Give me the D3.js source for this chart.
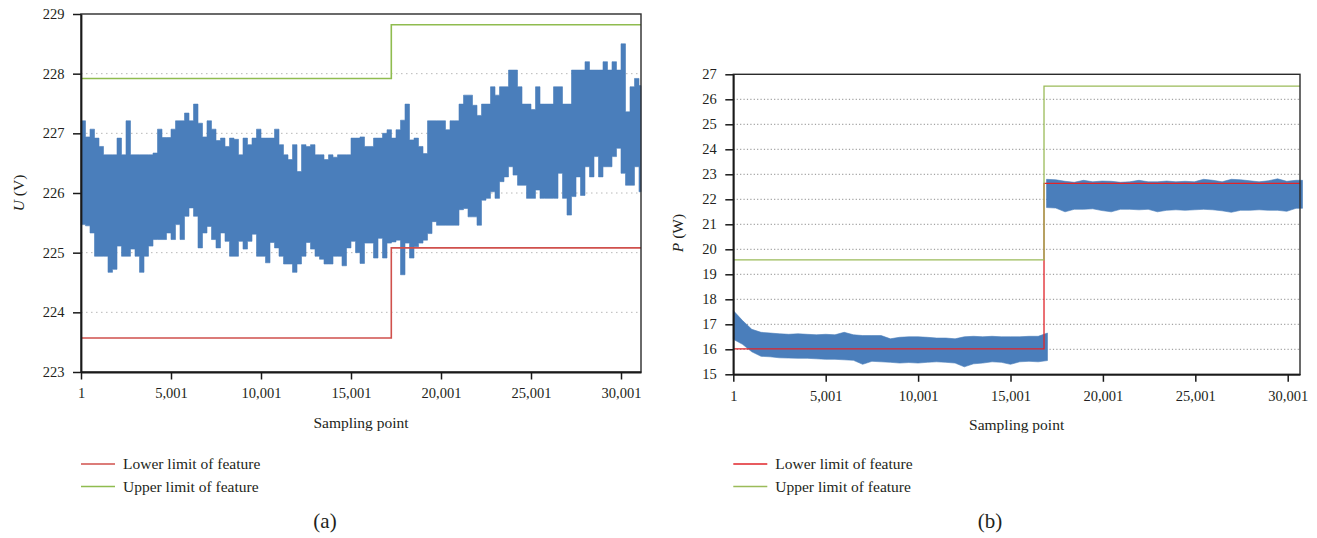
<!DOCTYPE html>
<html>
<head>
<meta charset="utf-8">
<script src="https://cdn.jsdelivr.net/npm/d3@7/dist/d3.min.js"></script>
<style>
  body { margin: 0; background: #fff; }
  svg text { font-family: "Liberation Serif", "Times New Roman", serif; fill: #231f20; }
</style>
</head>
<body>
<svg id="chart" width="1317" height="538"></svg>
<script>
// ---- panel (a): voltage, envelope of the sampled signal every 250 points ----
const voltStep = 250;
const voltUpper = [
  227.21, 226.94, 227.07, 226.92, 226.78, 226.64, 226.64, 226.64, 226.92, 226.64,
  227.21, 226.64, 226.64, 226.64, 226.64, 226.64, 226.67, 227.07, 226.93, 226.93,
  227.07, 227.21, 227.21, 227.34, 227.21, 227.49, 227.17, 226.94, 227.21, 227.07,
  226.88, 226.92, 226.78, 226.92, 226.90, 226.64, 226.92, 226.81, 226.92, 227.07,
  226.92, 226.92, 226.92, 227.07, 226.81, 226.64, 226.56, 226.81, 226.36, 226.81,
  226.78, 226.81, 226.64, 226.64, 226.56, 226.64, 226.60, 226.64, 226.64, 226.64,
  226.92, 226.92, 226.94, 226.78, 226.78, 226.92, 226.92, 227.00, 227.06, 226.92,
  227.06, 227.22, 227.49, 226.89, 226.92, 226.78, 226.66, 227.21, 227.21, 227.21,
  227.21, 227.06, 227.21, 227.21, 227.49, 227.64, 227.64, 227.47, 227.30, 227.49,
  227.49, 227.78, 227.64, 227.78, 227.78, 228.06, 228.06, 227.78, 227.49, 227.49,
  227.40, 227.78, 227.49, 227.49, 227.49, 227.78, 227.78, 227.49, 227.49, 228.06,
  228.06, 228.06, 228.20, 228.06, 228.06, 228.06, 228.20, 228.06, 228.20, 228.06,
  228.50, 227.36, 227.78, 227.92, 227.80
];
const voltLower = [
  225.47, 225.45, 225.33, 224.94, 224.94, 224.94, 224.67, 224.72, 225.11, 224.94,
  224.94, 225.06, 224.94, 224.67, 224.94, 225.11, 225.22, 225.22, 225.22, 225.33,
  225.22, 225.47, 225.22, 225.61, 225.75, 225.61, 225.08, 225.33, 225.44, 225.22,
  225.08, 225.33, 225.19, 224.94, 224.94, 225.19, 225.06, 225.19, 225.31, 224.94,
  224.94, 224.83, 225.17, 225.08, 224.94, 224.81, 224.81, 224.67, 224.81, 224.94,
  225.17, 225.06, 224.94, 224.89, 224.81, 224.81, 224.94, 224.94, 224.78, 225.08,
  225.19, 225.00, 224.82, 225.16, 225.16, 224.91, 225.24, 224.91, 225.16, 225.18,
  225.21, 224.63, 225.16, 224.91, 225.10, 225.16, 225.21, 225.32, 225.52, 225.46,
  225.46, 225.46, 225.46, 225.46, 225.72, 225.74, 225.60, 225.60, 225.46, 225.88,
  225.91, 226.02, 225.91, 226.19, 226.27, 226.44, 226.30, 226.13, 226.13, 225.91,
  225.91, 226.05, 225.91, 225.91, 225.91, 225.91, 226.33, 225.91, 225.63, 225.94,
  226.27, 225.96, 226.44, 226.27, 226.61, 226.27, 226.44, 226.44, 226.61, 226.75,
  226.33, 226.13, 226.13, 226.44, 226.02
];
const voltEnd = 31112;
const voltLimitX = [1, 17240, voltEnd];
const voltLowerLimit = [223.57, 225.08];
const voltUpperLimit = [227.92, 228.82];
const voltTicks = [223, 224, 225, 226, 227, 228, 229];
const voltGrid = [224, 225, 226, 227, 228];

// ---- panel (b): power, envelope every 500 points, two segments ----
const powerStep = 500;
const powerUpperA = [
  17.55, 17.15, 16.80, 16.68, 16.65, 16.62, 16.60, 16.62, 16.60, 16.58,
  16.60, 16.58, 16.68, 16.58, 16.55, 16.55, 16.55, 16.42, 16.48, 16.50,
  16.50, 16.48, 16.45, 16.45, 16.42, 16.50, 16.52, 16.50, 16.52, 16.50,
  16.50, 16.50, 16.52, 16.52, 16.65
];
const powerLowerA = [
  16.40, 16.20, 15.90, 15.72, 15.70, 15.66, 15.65, 15.64, 15.64, 15.62,
  15.60, 15.60, 15.58, 15.56, 15.40, 15.52, 15.50, 15.48, 15.45, 15.47,
  15.45, 15.48, 15.50, 15.48, 15.45, 15.30, 15.42, 15.45, 15.50, 15.48,
  15.40, 15.50, 15.52, 15.50, 15.55
];
const powerStartB = 16951;
const powerUpperB = [
  22.80, 22.78, 22.72, 22.68, 22.76, 22.70, 22.73, 22.72, 22.68, 22.70,
  22.76, 22.70, 22.70, 22.73, 22.70, 22.72, 22.70, 22.80, 22.76, 22.70,
  22.80, 22.78, 22.74, 22.70, 22.74, 22.82, 22.72, 22.76
];
const powerLowerB = [
  21.67, 21.65, 21.50, 21.60, 21.60, 21.62, 21.55, 21.50, 21.60, 21.60,
  21.58, 21.60, 21.50, 21.56, 21.58, 21.56, 21.58, 21.60, 21.58, 21.54,
  21.48, 21.56, 21.56, 21.58, 21.56, 21.56, 21.52, 21.64
];
const powerEndB = 30801;
const powerEnd = 30666;
const powerLimitX = [1, 16814, powerEnd];
const powerLowerLimit = [16.02, 22.64];
const powerUpperLimit = [19.58, 26.53];
const powerTicks = [15, 16, 17, 18, 19, 20, 21, 22, 23, 24, 25, 26, 27];
const powerGrid = [16, 17, 18, 19, 20, 21, 22, 23, 24, 25, 26];

const sampleTicks = [1, 5001, 10001, 15001, 20001, 25001, 30001];
const legendLabels = ["Lower limit of feature", "Upper limit of feature"];

const blue = "#4a7ebb";
const svg = d3.select("#chart");

function drawPanel(p) {
  const g = svg.append("g");
  const x = d3.scaleLinear().domain([1, p.xEnd]).range([p.left, p.right]);
  const y = d3.scaleLinear().domain(p.yDomain).range([p.bottom, p.top]);

  g.selectAll(".grid")
    .data(p.grid)
    .enter()
    .append("line")
    .attr("x1", p.left)
    .attr("x2", p.right)
    .attr("y1", d => y(d))
    .attr("y2", d => y(d))
    .attr("stroke", p.gridColor)
    .attr("stroke-width", 1)
    .attr("stroke-dasharray", p.gridDash);

  p.bands.forEach(b => {
    const rows = b.upper.map((u, i) => ({ s: b.start + i * b.step, u: u, l: b.lower[i] }));
    rows.push({ s: b.end, u: b.upper[b.upper.length - 1], l: b.lower[b.lower.length - 1] });
    const area = d3.area()
      .x(d => x(d.s))
      .y0(d => y(d.l))
      .y1(d => y(d.u))
      .curve(b.curve);
    g.append("path")
      .datum(rows)
      .attr("d", area)
      .attr("fill", blue)
      .attr("stroke", blue)
      .attr("stroke-width", 0.6);
  });

  const limLine = d3.line().x(d => x(d[0])).y(d => y(d[1])).curve(d3.curveStepAfter);
  const limits = [
    { vals: p.lower, color: p.red },
    { vals: p.upper, color: p.green }
  ];
  limits.forEach(l => {
    const pts = p.limitX.map((s, i) => [s, l.vals[Math.min(i, l.vals.length - 1)]]);
    g.append("path")
      .datum(pts)
      .attr("d", limLine)
      .attr("fill", "none")
      .attr("stroke", l.color)
      .attr("stroke-width", p.limitWidth);
  });

  // frame
  g.append("rect")
    .attr("x", p.left)
    .attr("y", p.top)
    .attr("width", p.right - p.left)
    .attr("height", p.bottom - p.top)
    .attr("fill", "none")
    .attr("stroke", "#2b2b2b")
    .attr("stroke-width", 1.4);

  const yAxis = d3.axisLeft(y).tickValues(p.yTicks).tickFormat(d3.format("d"))
    .tickSize(8).tickSizeOuter(0).tickPadding(8.5);
  const gy = g.append("g").attr("transform", "translate(" + p.left + ",0)").call(yAxis);
  const xAxis = d3.axisBottom(x).tickValues(sampleTicks).tickFormat(d3.format(","))
    .tickSize(7.5).tickSizeOuter(0).tickPadding(8.5);
  const gx = g.append("g").attr("transform", "translate(0," + p.bottom + ")").call(xAxis);
  [gx, gy].forEach(a => {
    a.select(".domain").attr("stroke", "#1a1a1a").attr("stroke-width", 1.8);
    a.selectAll(".tick line").attr("stroke", "#1a1a1a").attr("stroke-width", 1.5);
    a.selectAll(".tick text")
      .attr("fill", "#231f20")
      .style("font-family", "'Liberation Serif', serif")
      .style("font-size", "14.5px");
  });

  g.append("text")
    .attr("x", (p.left + p.right) / 2)
    .attr("y", p.bottom + 56)
    .attr("text-anchor", "middle")
    .style("font-size", "15.5px")
    .text("Sampling point");

  const yt = g.append("text")
    .attr("transform", "translate(" + p.yTitleX + "," + p.yTitleY + ") rotate(-90)")
    .attr("text-anchor", "middle")
    .attr("dy", "0.35em")
    .style("font-size", "15.5px");
  yt.append("tspan").style("font-style", "italic").text(p.yVar);
  yt.append("tspan").text(" " + p.yUnit);

  const lg = g.append("g").attr("transform", "translate(" + p.left + ",464)");
  [p.red, p.green].forEach((c, i) => {
    lg.append("line")
      .attr("x1", 0).attr("x2", 34)
      .attr("y1", i * 22.5).attr("y2", i * 22.5)
      .attr("stroke", c).attr("stroke-width", 1.5);
    lg.append("text")
      .attr("x", 42)
      .attr("y", i * 22.5)
      .attr("dy", "0.33em")
      .style("font-size", "15.5px")
      .text(legendLabels[i]);
  });

  g.append("text")
    .attr("x", p.capX)
    .attr("y", 528)
    .attr("text-anchor", "middle")
    .style("font-size", "21px")
    .text(p.caption);
}

drawPanel({
  left: 81, right: 641, top: 14, bottom: 372,
  xEnd: voltEnd, yDomain: [223, 229], yTicks: voltTicks,
  grid: voltGrid, gridColor: "#b8b8b8", gridDash: "1.5,3.5",
  bands: [{ start: 1, step: voltStep, upper: voltUpper, lower: voltLower, end: voltEnd, curve: d3.curveStepAfter }],
  limitX: voltLimitX, lower: voltLowerLimit, upper: voltUpperLimit,
  red: "#d0504c", green: "#8fbc4f", limitWidth: 1.6,
  yVar: "U", yUnit: "(V)", yTitleX: 19, yTitleY: 193,
  caption: "(a)", capX: 325
});

drawPanel({
  left: 733.3, right: 1300, top: 74.3, bottom: 374.3,
  xEnd: powerEnd, yDomain: [15, 27], yTicks: powerTicks,
  grid: powerGrid, gridColor: "#8c8c8c", gridDash: "1.2,2.2",
  bands: [
    { start: 1, step: powerStep, upper: powerUpperA, lower: powerLowerA, end: 17001, curve: d3.curveLinear },
    { start: powerStartB, step: powerStep, upper: powerUpperB, lower: powerLowerB, end: powerEndB, curve: d3.curveLinear }
  ],
  limitX: powerLimitX, lower: powerLowerLimit, upper: powerUpperLimit,
  red: "#e0252a", green: "#9bbb59", limitWidth: 1.3,
  yVar: "P", yUnit: "(W)", yTitleX: 678, yTitleY: 233,
  caption: "(b)", capX: 990
});
</script>
</body>
</html>
